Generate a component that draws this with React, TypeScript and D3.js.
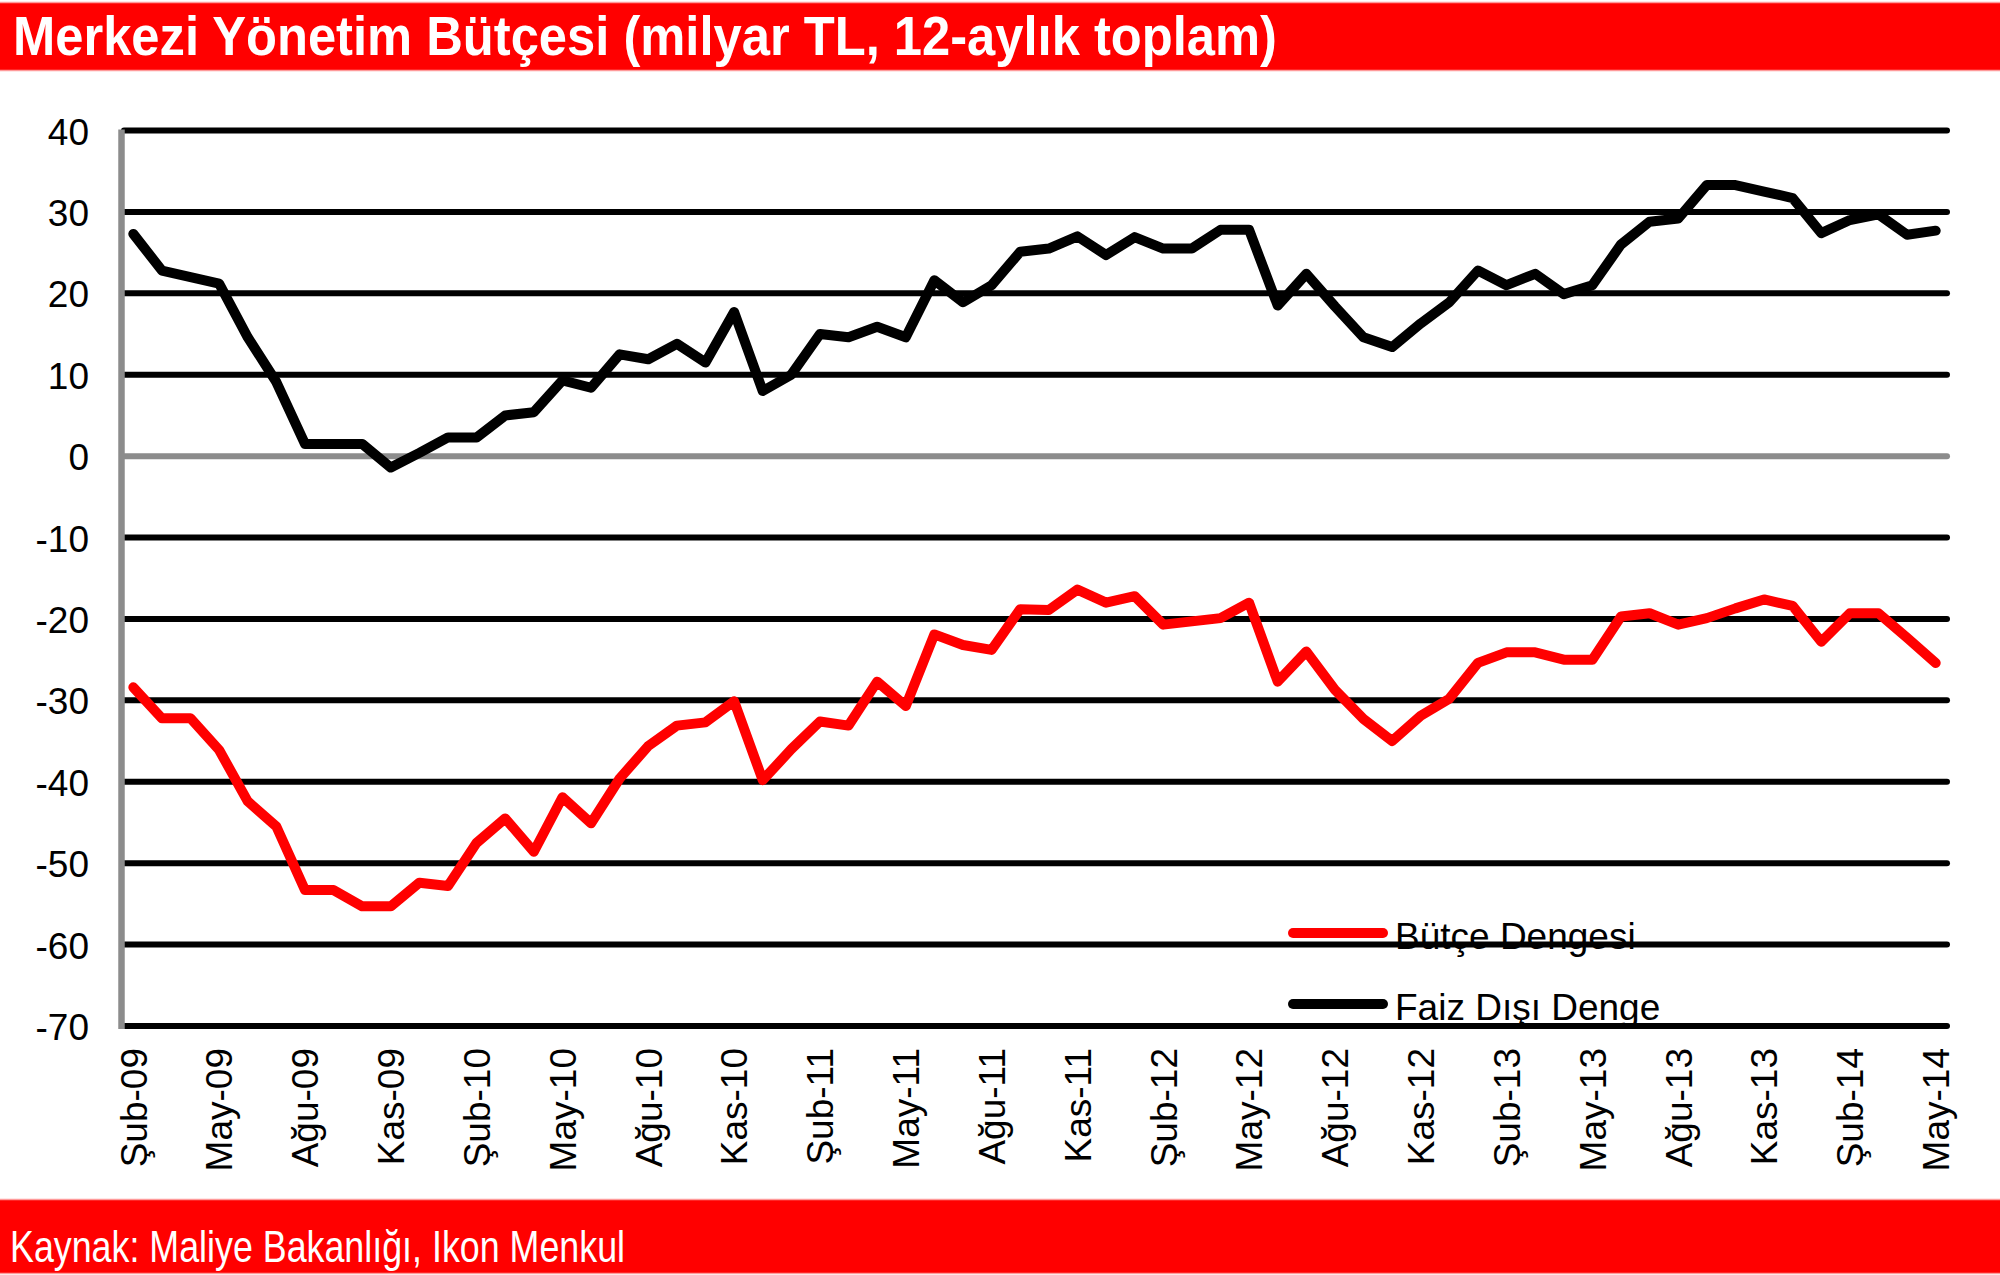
import React from "react";
import * as d3 from "d3";

const MONTHS = ["Oca", "Şub", "Mar", "Nis", "May", "Haz", "Tem", "Ağu", "Eyl", "Eki", "Kas", "Ara"];
const START_YEAR = 2009;
const START_MONTH = 1; // Şubat (0-based)
const N_MONTHS = 64;

const categories: string[] = Array.from({ length: N_MONTHS }, (_, i) => {
  const m = (START_MONTH + i) % 12;
  const y = START_YEAR + Math.floor((START_MONTH + i) / 12);
  return `${MONTHS[m]}-${String(y % 100).padStart(2, "0")}`;
});

const butceDengesi = [
  -28.4, -32.2, -32.2, -36.1, -42.4, -45.5, -53.3, -53.3, -55.3, -55.3,
  -52.4, -52.8, -47.5, -44.5, -48.6, -41.9, -45.1, -39.6, -35.6, -33.1,
  -32.7, -30.1, -39.8, -36.0, -32.6, -33.1, -27.7, -30.7, -21.9, -23.2,
  -23.8, -18.8, -18.9, -16.4, -18.0, -17.2, -20.7, -20.3, -19.9, -18.0,
  -27.7, -24.0, -28.7, -32.3, -35.0, -31.9, -29.8, -25.4, -24.1, -24.1,
  -25.0, -25.0, -19.7, -19.3, -20.7, -19.9, -18.7, -17.6, -18.4, -22.8,
  -19.3, -19.3, -22.3, -25.4,
];

const faizDisiDenge = [
  27.3, 22.8, 22.0, 21.2, 14.6, 9.1, 1.5, 1.5, 1.5, -1.4,
  0.4, 2.3, 2.3, 5.0, 5.4, 9.3, 8.4, 12.5, 11.9, 13.8,
  11.5, 17.7, 8.0, 10.0, 15.0, 14.6, 15.9, 14.6, 21.6, 18.9,
  21.0, 25.1, 25.5, 27.0, 24.7, 26.9, 25.5, 25.5, 27.8, 27.8,
  18.5, 22.4, 18.4, 14.6, 13.4, 16.3, 18.9, 22.8, 21.0, 22.4,
  19.9, 21.0, 26.0, 28.8, 29.2, 33.3, 33.3, 32.5, 31.7, 27.4,
  29.0, 29.7, 27.2, 27.7,
];

const yTicks = [40, 30, 20, 10, 0, -10, -20, -30, -40, -50, -60, -70];

const TITLE = "Merkezi Yönetim Bütçesi (milyar TL, 12-aylık toplam)";
const SOURCE = "Kaynak: Maliye Bakanlığı, Ikon Menkul";
const seriesNames = ["Bütçe Dengesi", "Faiz Dışı Denge"];

const W = 2000;
const H = 1275;
const FONT = "'Liberation Sans', Arial, Helvetica, sans-serif";
const RED = "#ff0000";

export default function App() {
  const plotLeft = 119;
  const plotRight = 1950;
  const x = d3.scaleBand<string>().domain(categories).range([plotLeft, plotRight]);
  const cx = (c: string) => (x(c) as number) + x.bandwidth() / 2;
  const y = d3.scaleLinear().domain([-70, 40]).range([1026, 130.5]);

  const line = d3
    .line<number>()
    .x((_, i) => cx(categories[i]))
    .y((d) => y(d));

  const xLabels = categories.filter((_, i) => i % 3 === 0);

  return (
    <svg
      width={W}
      height={H}
      viewBox={`0 0 ${W} ${H}`}
      style={{ position: "absolute", left: 0, top: 0, display: "block", background: "#fff" }}
      fontFamily={FONT}
    >
      {/* Title bar */}
      <rect x={0} y={3} width={W} height={67} fill={RED} />
      <line x1={0} x2={W} y1={2.5} y2={2.5} stroke="#ff9a9a" strokeWidth={1.5} />
      <line x1={0} x2={W} y1={70.5} y2={70.5} stroke="#ff9a9a" strokeWidth={1.5} />
      <text
        x={13}
        y={55}
        fill="#fff"
        fontSize={56}
        fontWeight="bold"
        textLength={1264}
        lengthAdjust="spacingAndGlyphs"
      >
        {TITLE}
      </text>

      {/* Legend (drawn beneath gridlines as in original) */}
      <g>
        <line x1={1293} x2={1383} y1={933} y2={933} stroke={RED} strokeWidth={10} strokeLinecap="round" />
        <text x={1395} y={949} fontSize={37} fill="#000">
          {seriesNames[0]}
        </text>
        <line x1={1293} x2={1383} y1={1004} y2={1004} stroke="#000" strokeWidth={10} strokeLinecap="round" />
        <text x={1395} y={1020} fontSize={37} fill="#000">
          {seriesNames[1]}
        </text>
      </g>

      {/* Gridlines */}
      {yTicks.map((t) => (
        <line
          key={t}
          x1={124}
          x2={plotRight - 3}
          y1={y(t)}
          y2={y(t)}
          stroke={t === 0 ? "#8c8c8c" : "#000"}
          strokeWidth={6}
          strokeLinecap="round"
        />
      ))}

      {/* Y axis */}
      <line x1={121.5} x2={121.5} y1={y(40) - 1} y2={y(-70) + 3} stroke="#8c8c8c" strokeWidth={6.5} />

      {/* Y tick labels */}
      {yTicks.map((t) => (
        <text key={t} x={89} y={y(t)} dy="0.38em" textAnchor="end" fontSize={37} fill="#000">
          {t}
        </text>
      ))}

      {/* X tick labels */}
      {xLabels.map((c) => (
        <text
          key={c}
          transform={`translate(${cx(c)},1048) rotate(-90)`}
          dy="0.36em"
          textAnchor="end"
          fontSize={37}
          fill="#000"
        >
          {c}
        </text>
      ))}

      {/* Series */}
      <path d={line(faizDisiDenge) || ""} fill="none" stroke="#000" strokeWidth={10} strokeLinejoin="round" strokeLinecap="round" />
      <path d={line(butceDengesi) || ""} fill="none" stroke={RED} strokeWidth={10} strokeLinejoin="round" strokeLinecap="round" />

      {/* Footer */}
      <rect x={0} y={1200} width={W} height={73} fill={RED} />
      <line x1={0} x2={W} y1={1199.5} y2={1199.5} stroke="#ff9a9a" strokeWidth={1.5} />
      <line x1={0} x2={W} y1={1273.5} y2={1273.5} stroke="#ff9a9a" strokeWidth={1.5} />
      <text x={10} y={1262} fill="#fff" fontSize={44} textLength={615} lengthAdjust="spacingAndGlyphs">
        {SOURCE}
      </text>
    </svg>
  );
}
